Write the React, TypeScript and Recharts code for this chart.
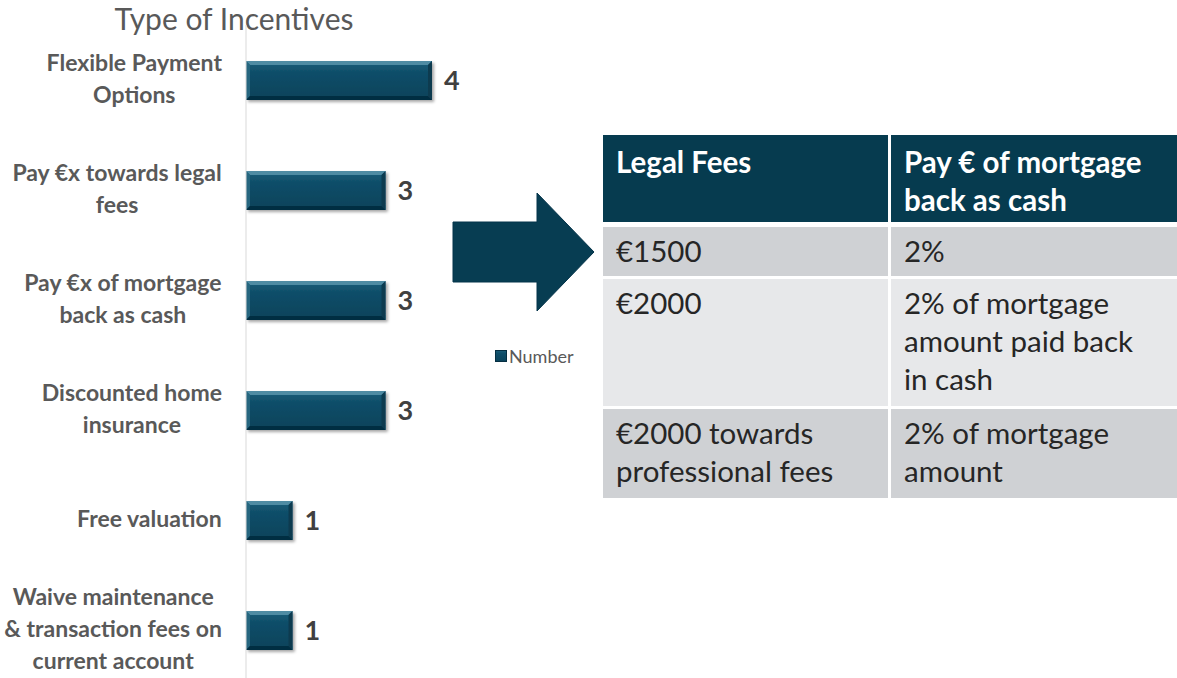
import React from "react";
import { BarChart, Bar, XAxis, YAxis, Legend, LabelList } from "recharts";

const categories = [
  "Flexible Payment\nOptions",
  "Pay €x towards legal\nfees",
  "Pay €x of mortgage\nback as cash",
  "Discounted home\ninsurance",
  "Free valuation",
  "Waive maintenance\n& transaction fees on\ncurrent account",
];
const counts = [4, 3, 3, 3, 1, 1];

const tableHeaders = ["Legal Fees", "Pay € of mortgage back as cash"];
const legalFees = ["€1500", "€2000", "€2000 towards professional fees"];
const cashBack = ["2%", "2% of mortgage amount paid back in cash", "2% of mortgage amount"];

const data = categories.map((name, i) => ({ name, count: counts[i] }));

const FONT = "Lato, 'Open Sans', sans-serif";
const LABEL_SIZE = 23;
const LABEL_FONT = `bold ${LABEL_SIZE}px ${FONT}`;

let measureCtx: CanvasRenderingContext2D | null = null;
const textWidth = (s: string) => {
  if (!measureCtx) measureCtx = document.createElement("canvas").getContext("2d");
  if (!measureCtx) return s.length * 11;
  measureCtx.font = LABEL_FONT;
  return measureCtx.measureText(s).width;
};

const CategoryTick = (props: any) => {
  const { x, y, payload } = props;
  const lines: string[] = String(payload.value).split("\n");
  const blockW = Math.max(...lines.map(textWidth));
  const cx = x - blockW / 2;
  const lh = 32;
  return (
    <g>
      {lines.map((line, i) => (
        <text
          key={i}
          x={cx}
          y={y - 2 + (i - (lines.length - 1) / 2) * lh}
          textAnchor="middle"
          dominantBaseline="central"
          fill="#595959"
          fontFamily={FONT}
          fontWeight="bold"
          fontSize={LABEL_SIZE}
        >
          {line}
        </text>
      ))}
    </g>
  );
};

const BevelBar = (props: any) => {
  const { x, y, width, height } = props;
  if (!width || width <= 0) return null;
  const b = 4;
  const r = x + width;
  const bt = y + height;
  return (
    <g filter="url(#barShadow)">
      <rect x={x} y={y} width={width} height={height} fill="url(#barFill)" />
      <polygon points={`${x},${y} ${r},${y} ${r - b},${y + b} ${x + b},${y + b}`} fill="#4f8ba3" />
      <polygon points={`${x},${y} ${x + b},${y + b} ${x + b},${bt - b} ${x},${bt}`} fill="#25667f" />
      <polygon points={`${r},${y} ${r},${bt} ${r - b},${bt - b} ${r - b},${y + b}`} fill="#083a50" />
      <polygon points={`${x},${bt} ${r},${bt} ${r - b},${bt - b} ${x + b},${bt - b}`} fill="#062f42" />
    </g>
  );
};

const LegendContent = (props: any) => {
  const items = props.payload || [];
  return (
    <div style={{ display: "flex", alignItems: "center" }}>
      {items.map((it: any) => (
        <div key={it.value} style={{ display: "flex", alignItems: "center" }}>
          <svg width={12} height={12} style={{ marginRight: 2 }}>
            <rect x={0} y={0} width={12} height={12} fill="url(#barFill)" />
            <rect x={0.5} y={0.5} width={11} height={11} fill="none" stroke="#062f42" strokeWidth={1} />
          </svg>
          <span style={{ color: "#595959", fontSize: 18, fontFamily: FONT }}>{it.value}</span>
        </div>
      ))}
    </div>
  );
};

const cellBase: React.CSSProperties = {
  padding: "5px 16px 0 13px",
  lineHeight: "38px",
  fontSize: 29.5,
  boxSizing: "border-box",
};

export default function App() {
  const rowHeights = [49, 127, 89];
  const rowColors = ["#cfd1d4", "#e7e8ea", "#cfd1d4"];
  return (
    <div
      style={{
        position: "absolute",
        left: 0,
        top: 0,
        width: 1177,
        height: 678,
        overflow: "hidden",
        background: "#fff",
        fontFamily: FONT,
      }}
    >
      <svg width={1177} height={678} style={{ position: "absolute", left: 0, top: 0 }}>
        <defs>
          <linearGradient id="barFill" x1="0" y1="0" x2="0" y2="1">
            <stop offset="0%" stopColor="#1c5f7a" />
            <stop offset="30%" stopColor="#0f4e69" />
            <stop offset="100%" stopColor="#0a425a" />
          </linearGradient>
          <filter id="barShadow" x="-10%" y="-20%" width="130%" height="160%">
            <feDropShadow dx="2" dy="2" stdDeviation="1.5" floodColor="#000" floodOpacity="0.35" />
          </filter>
        </defs>
        <text
          x={234}
          y={30}
          textAnchor="middle"
          fill="#595959"
          fontFamily={FONT}
          fontSize={30}
        >
          Type of Incentives
        </text>
        <polygon
          points="453,222 537,222 537,193 594,252 537,311 537,282 453,282"
          fill="#073d52"
          stroke="#05344a"
          strokeWidth={1}
        />
      </svg>

      <div style={{ position: "absolute", left: 0, top: 0 }}>
        <BarChart
          width={1177}
          height={720}
          layout="vertical"
          data={data}
          margin={{ top: 25, right: 745, bottom: 15, left: 0 }}
          barSize={39}
        >
          <XAxis type="number" hide domain={[0, 4]} />
          <YAxis
            type="category"
            dataKey="name"
            width={246}
            axisLine={{ stroke: "#d9d9d9", strokeWidth: 1 }}
            tickLine={false}
            tickSize={0}
            tickMargin={24}
            interval={0}
            tick={<CategoryTick />}
          />
          <Legend
            content={<LegendContent />}
            wrapperStyle={{ position: "absolute", left: 495, top: 345, width: 100, height: 20 }}
          />
          <Bar
            dataKey="count"
            name="Number"
            fill="#0f4e69"
            shape={<BevelBar />}
            isAnimationActive={false}
          >
            <LabelList
              dataKey="count"
              position="right"
              offset={12}
              fill="#404040"
              fontFamily={FONT}
              fontWeight="bold"
              fontSize={27}
            />
          </Bar>
        </BarChart>
      </div>

      <div
        style={{
          position: "absolute",
          left: 603,
          top: 135,
          display: "grid",
          gridTemplateColumns: "285px 286px",
          columnGap: 3,
        }}
      >
        {tableHeaders.map((h) => (
          <div
            key={h}
            style={{
              ...cellBase,
              paddingTop: 8,
              height: 87,
              marginBottom: 5,
              background: "#063b4f",
              color: "#fff",
              fontWeight: "bold",
            }}
          >
            {h}
          </div>
        ))}
        {legalFees.map((fee, r) => (
          <React.Fragment key={r}>
            <div
              style={{
                ...cellBase,
                height: rowHeights[r],
                marginBottom: 3,
                background: rowColors[r],
                color: "#262626",
              }}
            >
              {fee}
            </div>
            <div
              style={{
                ...cellBase,
                height: rowHeights[r],
                marginBottom: 3,
                background: rowColors[r],
                color: "#262626",
              }}
            >
              {cashBack[r]}
            </div>
          </React.Fragment>
        ))}
      </div>
    </div>
  );
}
